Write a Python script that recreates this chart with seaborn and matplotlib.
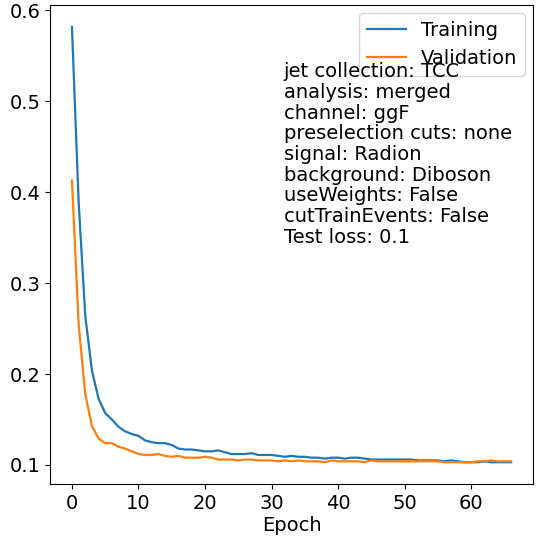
import numpy as np
import pandas as pd
import matplotlib
matplotlib.use('Agg')
import matplotlib.pyplot as plt
import seaborn as sns

# loss values, one per epoch
train_loss = [0.582, 0.390, 0.264, 0.204, 0.173, 0.157, 0.150, 0.142, 0.137, 0.134,
              0.132, 0.127, 0.125, 0.124, 0.124, 0.122, 0.118, 0.117, 0.117, 0.116,
              0.115, 0.115, 0.116, 0.114, 0.112, 0.112, 0.112, 0.113, 0.111, 0.111,
              0.111, 0.110, 0.109, 0.110, 0.109, 0.109, 0.108, 0.108, 0.107, 0.108,
              0.108, 0.107, 0.108, 0.108, 0.107, 0.106, 0.106, 0.106, 0.106, 0.106,
              0.106, 0.106, 0.105, 0.105, 0.105, 0.105, 0.104, 0.105, 0.104, 0.103,
              0.103, 0.103, 0.104, 0.103, 0.103, 0.103, 0.103]
val_loss = [0.413, 0.255, 0.178, 0.143, 0.129, 0.124, 0.124, 0.120, 0.118, 0.115,
            0.112, 0.111, 0.111, 0.112, 0.110, 0.109, 0.110, 0.108, 0.108, 0.108,
            0.109, 0.108, 0.106, 0.106, 0.106, 0.105, 0.106, 0.106, 0.105, 0.105,
            0.105, 0.104, 0.105, 0.104, 0.105, 0.104, 0.104, 0.104, 0.103, 0.105,
            0.104, 0.104, 0.104, 0.104, 0.103, 0.105, 0.104, 0.104, 0.104, 0.104,
            0.104, 0.104, 0.104, 0.104, 0.104, 0.104, 0.103, 0.103, 0.103, 0.103,
            0.103, 0.104, 0.104, 0.105, 0.104, 0.104, 0.104]
series_names = ['Training', 'Validation']

info_lines = ['jet collection: TCC',
              'analysis: merged',
              'channel: ggF',
              'preselection cuts: none',
              'signal: Radion',
              'background: Diboson',
              'useWeights: False',
              'cutTrainEvents: False',
              'Test loss: 0.1']

epochs = np.arange(len(train_loss))
df = pd.concat([
    pd.DataFrame({'Epoch': epochs, 'loss': train_loss, 'set': series_names[0]}),
    pd.DataFrame({'Epoch': epochs, 'loss': val_loss, 'set': series_names[1]}),
])

fs = 14
plt.rcParams['font.size'] = fs
plt.rcParams['font.family'] = ['DejaVu Sans']

fig, ax = plt.subplots(figsize=(5.47, 5.36), dpi=100)
fig.subplots_adjust(left=0.0914, right=0.9744, top=0.9907, bottom=0.097)

sns.lineplot(data=df, x='Epoch', y='loss', hue='set',
             palette=['#1f77b4', '#ff7f0e'], linewidth=1.6, ax=ax)
ax.set_ylabel('')
ax.set_xlabel('Epoch', fontsize=fs, labelpad=2)
ax.tick_params(labelsize=fs)
ax.legend(loc='upper right', fontsize=fs, borderaxespad=0.4)

# the info block sits on top of the legend in the reference
ax.text(0.484, 0.88, '\n'.join(info_lines), transform=ax.transAxes,
        va='top', ha='left', fontsize=fs, linespacing=1.11, zorder=6)

plt.savefig('out.png', dpi=100)
